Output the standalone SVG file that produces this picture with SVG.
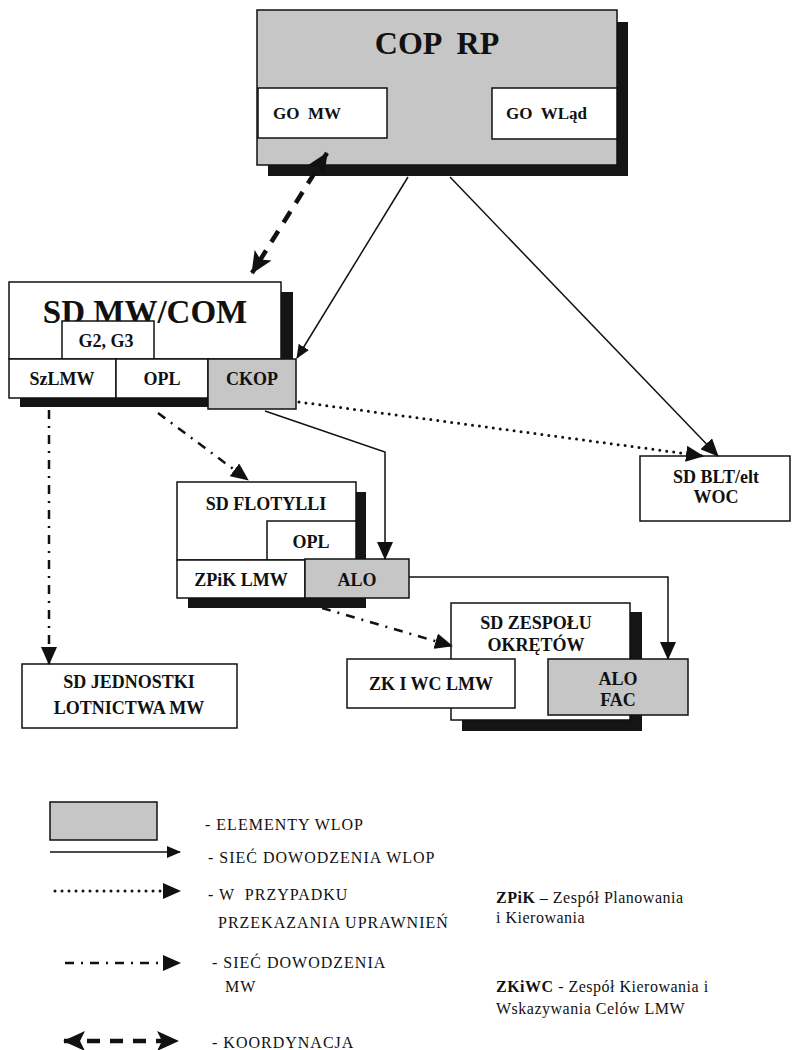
<svg xmlns="http://www.w3.org/2000/svg" width="795" height="1050" viewBox="0 0 795 1050">
<defs>
<style>
.box{fill:#fff;stroke:#111;stroke-width:1.5}
.gray{fill:#c6c6c6;stroke:#111;stroke-width:1.5}
.shadow{fill:#151515}
.t{font-family:"Liberation Serif","Times New Roman",serif;font-weight:bold;fill:#111;text-anchor:middle;white-space:pre}
.l{font-family:"Liberation Serif","Times New Roman",serif;font-size:16px;letter-spacing:1px;fill:#111;white-space:pre}
.d{font-family:"Liberation Serif","Times New Roman",serif;font-size:16px;letter-spacing:0.5px;fill:#111}
.solid{fill:none;stroke:#111;stroke-width:1.5}
.dot{fill:none;stroke:#111;stroke-width:3;stroke-linecap:round;stroke-dasharray:0 7}
.dashdot{fill:none;stroke:#111;stroke-width:2.5;stroke-dasharray:9 7 2 7}
.dash{fill:none;stroke:#111;stroke-width:4.5;stroke-dasharray:13 10}
</style>
<marker id="aS" markerUnits="userSpaceOnUse" markerWidth="14" markerHeight="12" refX="13" refY="6" orient="auto"><path d="M0,0 L14,6 L0,12 Z" fill="#111"/></marker>
<marker id="aL" markerUnits="userSpaceOnUse" markerWidth="18" markerHeight="16" refX="17" refY="8" orient="auto"><path d="M0,0 L18,8 L0,16 Z" fill="#111"/></marker>
<marker id="aC" markerUnits="userSpaceOnUse" markerWidth="22" markerHeight="20" refX="21" refY="10" orient="auto"><path d="M0,0 L22,10 L0,20 L5,10 Z" fill="#111"/></marker>
<marker id="aCs" markerUnits="userSpaceOnUse" markerWidth="22" markerHeight="20" refX="1" refY="10" orient="auto"><path d="M22,0 L0,10 L22,20 L17,10 Z" fill="#111"/></marker>
</defs>

<g id="cop-rp">
<rect class="shadow" x="268" y="22" width="360" height="154"/>
<rect class="gray" x="257" y="10" width="360" height="155"/>
<text class="t" x="437" y="54" font-size="32">COP  RP</text>
<g id="go-mw"><rect class="box" x="258" y="88" width="129" height="50"/><text class="t" x="273" y="119" font-size="17" style="text-anchor:start">GO  MW</text></g>
<g id="go-wlad"><rect class="box" x="492" y="88" width="125" height="51"/><text class="t" x="506" y="119" font-size="17" style="text-anchor:start">GO  WLąd</text></g>
</g>

<g id="sd-mw-com">
<rect class="shadow" x="20" y="292" width="273" height="115"/>
<rect class="box" x="9" y="282" width="272" height="77"/>
<text class="t" x="145" y="323" font-size="33">SD MW/COM</text>
<g id="g2g3"><rect class="box" x="62" y="321" width="92" height="38"/><text class="t" x="106" y="347" font-size="18">G2, G3</text></g>
<g id="szlmw"><rect class="box" x="9" y="359" width="107" height="39"/><text class="t" x="62" y="385" font-size="18">SzLMW</text></g>
<g id="opl1"><rect class="box" x="116" y="359" width="92" height="39"/><text class="t" x="162" y="385" font-size="18">OPL</text></g>
<g id="ckop"><rect class="gray" x="208" y="359" width="88" height="50"/><text class="t" x="252" y="385" font-size="18">CKOP</text></g>
</g>

<g id="sd-flotylli">
<rect class="shadow" x="188" y="492" width="178" height="116"/>
<rect class="box" x="177" y="482" width="179" height="78"/>
<text class="t" x="266" y="510" font-size="18">SD FLOTYLLI</text>
<g id="opl2"><rect class="box" x="267" y="521" width="89" height="39"/><text class="t" x="311" y="548" font-size="18">OPL</text></g>
<g id="zpik"><rect class="box" x="177" y="560" width="128" height="38"/><text class="t" x="241" y="586" font-size="18">ZPiK LMW</text></g>
<g id="alo1"><rect class="gray" x="305" y="559" width="104" height="39"/><text class="t" x="357" y="586" font-size="18">ALO</text></g>
</g>

<g id="sd-zespolu">
<rect class="shadow" x="462" y="612" width="180" height="119"/>
<rect class="box" x="451" y="603" width="179" height="117"/>
<text class="t" x="536" y="629" font-size="18">SD ZESPOŁU</text>
<text class="t" x="536" y="651" font-size="18">OKRĘTÓW</text>
<g id="zkiwc"><rect class="box" x="347" y="659" width="168" height="49"/><text class="t" x="431" y="690" font-size="18">ZK I WC LMW</text></g>
<g id="alo-fac"><rect class="gray" x="548" y="659" width="140" height="56"/><text class="t" x="618" y="685" font-size="18">ALO</text><text class="t" x="618" y="706" font-size="18">FAC</text></g>
</g>

<g id="sd-jednostki">
<rect class="box" x="22" y="664" width="215" height="64"/>
<text class="t" x="129" y="688" font-size="18">SD JEDNOSTKI</text>
<text class="t" x="129" y="714" font-size="18">LOTNICTWA MW</text>
</g>

<g id="sd-blt">
<rect class="box" x="640" y="456" width="150" height="65"/>
<text class="t" x="716" y="483" font-size="18">SD BLT/elt</text>
<text class="t" x="716" y="503" font-size="18">WOC</text>
</g>

<g id="connectors">
<path class="dash" d="M327,153 L252,273" marker-start="url(#aCs)" marker-end="url(#aC)"/>
<path class="solid" d="M408,177 L297,358" marker-end="url(#aS)"/>
<path class="solid" d="M450,177 L718,456" marker-end="url(#aL)"/>
<path class="dot" d="M299,402 L703,456" marker-end="url(#aL)"/>
<path class="solid" d="M265,411 L385,452 L385,559" marker-end="url(#aL)"/>
<path class="solid" d="M409,577 L668,577 L668,659" marker-end="url(#aL)"/>
<path class="dashdot" d="M49,410 L49,664" marker-end="url(#aL)"/>
<path class="dashdot" d="M158,413 L248,480" marker-end="url(#aL)"/>
<path class="dashdot" d="M322,608 L452,646" marker-end="url(#aL)"/>
</g>

<g id="legend">
<rect class="gray" x="50" y="802" width="107" height="38"/>
<text class="l" x="205" y="830">- ELEMENTY WLOP</text>
<path class="solid" d="M50,852 L180,852" marker-end="url(#aS)"/>
<text class="l" x="208" y="863">- SIEĆ DOWODZENIA WLOP</text>
<path class="dot" d="M55,891 L180,891" marker-end="url(#aL)"/>
<text class="l" x="208" y="900">- W  PRZYPADKU</text>
<text class="l" x="218" y="928">PRZEKAZANIA UPRAWNIEŃ</text>
<path class="dashdot" d="M65,963 L180,963" marker-end="url(#aL)"/>
<text class="l" x="212" y="968">- SIEĆ DOWODZENIA</text>
<text class="l" x="225" y="992">MW</text>
<path class="dash" d="M64,1041 L178,1041" marker-start="url(#aCs)" marker-end="url(#aC)"/>
<text class="l" x="212" y="1048">- KOORDYNACJA</text>
<text class="d" x="496" y="903"><tspan font-weight="bold">ZPiK</tspan> – Zespół Planowania</text>
<text class="d" x="496" y="923">i Kierowania</text>
<text class="d" x="496" y="992"><tspan font-weight="bold">ZKiWC</tspan> - Zespół Kierowania i</text>
<text class="d" x="496" y="1014">Wskazywania Celów LMW</text>
</g>
</svg>
